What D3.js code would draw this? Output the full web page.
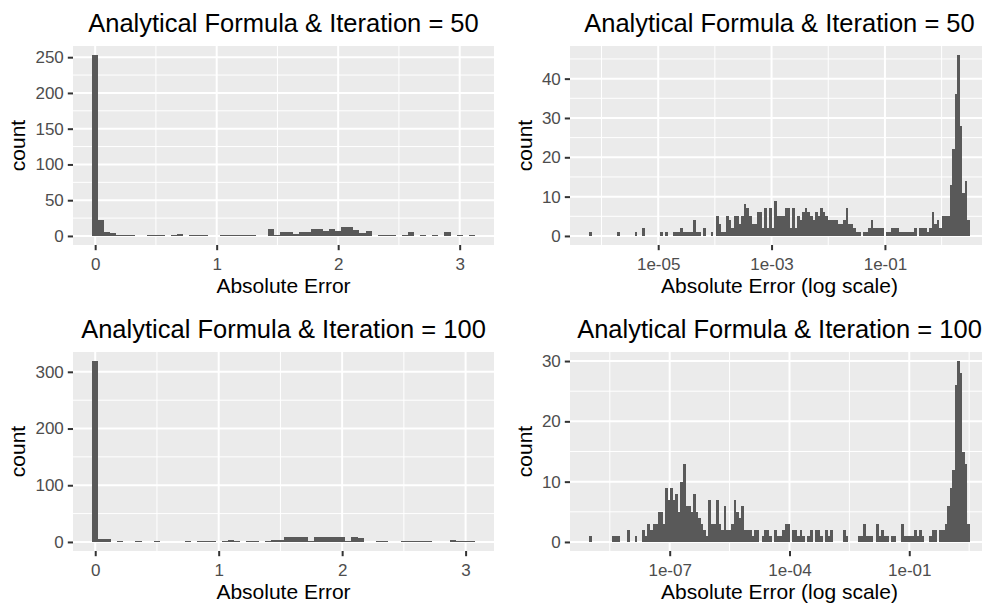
<!DOCTYPE html>
<html><head><meta charset="utf-8">
<script src="https://cdn.jsdelivr.net/npm/d3@7"></script>
<style>
body{margin:0;background:#fff;}
text{font-family:"Liberation Sans",Arial,Helvetica,sans-serif;}
</style></head><body>
<svg id="c" width="982" height="604"></svg>
<script>
// ---------------- DATA ----------------
const titles = ["Analytical Formula & Iteration = 50","Analytical Formula & Iteration = 50",
                "Analytical Formula & Iteration = 100","Analytical Formula & Iteration = 100"];
const xTitles = ["Absolute Error","Absolute Error (log scale)","Absolute Error","Absolute Error (log scale)"];
const yTitle = "count";

// linear histograms: bins of width 0.05 centred on 0, 0.05, 0.10, ...
const linBinWidth = 0.05;
const lin50Counts = [253,22,6,4,1,1,1,0,0,1, 1,1,0,1,3,0,1,1,1,0, 0,1,1,1,1,1,1,0,0,10,
                     1,5,5,3,5,5,10,10,7,10, 7,12,12,8,4,7,0,1,1,1, 0,1,5,0,1,0,1,0,5,0, 1,0,1];
const lin100Counts = [319,5,5,0,1,0,0,1,0,0, 1,0,0,0,0,1,0,1,1,1, 0,1,3,1,0,1,1,0,1,3,
                      3,8,8,8,8,1,8,8,8,8, 8,1,8,7,0,0,1,1,0,0, 1,1,1,1,1,0,0,0,3,1, 1,1];

// log histograms: 150 equal bins in log10 space
const log50Range = [-6.22, 0.50];   // log10 of outer bin edges
const log50Counts = [
 1,0,0,0,0,0,0,0,0,0,  0,1,0,0,0,0,0,0,1,0,  0,2,0,0,0,0,0,0,1,0,
 1,0,0,1,1,1,2,1,1,1,  1,4,1,1,0,2,0,0,1,0,  5,3,1,1,5,4,2,5,5,3,
 5,8,7,5,3,3,6,6,2,7,  2,7,2,9,5,5,5,7,7,2,  7,2,5,4,6,7,6,5,4,6,
 5,7,6,5,4,4,4,4,3,3,  4,7,3,3,2,1,1,0,1,1,  2,4,2,2,2,2,0,1,1,2,
 2,2,1,1,1,1,1,1,2,0,  2,2,2,1,2,6,3,4,2,5,  5,5,13,22,36,46,28,11,14,4];
const log100Range = [-9.02, 0.52];
const log100Counts = [
 1,0,0,0,0,0,0,0,0,1,  1,1,0,0,0,2,0,0,1,0,  0,2,1,3,2,3,3,5,5,3,
 9,7,9,7,8,5,10,13,6,6,  5,8,5,4,3,2,1,7,3,3,  7,3,2,6,2,2,3,7,5,4,
 6,2,2,2,1,2,2,0,1,2,  2,1,0,2,1,1,2,3,3,0,  2,2,1,2,1,0,1,2,0,2,
 2,1,0,2,1,2,0,0,0,0,  2,1,0,0,0,0,1,1,3,1,  1,1,0,3,1,2,1,1,0,1,
 1,0,0,3,1,1,1,1,2,1,  2,1,0,0,1,2,2,0,2,2,  3,6,9,12,26,30,28,15,13,3];

const linXTicks = [0,1,2,3];
const log50XTicks = [1e-5,1e-3,1e-1];
const log50XLabels = ["1e-05","1e-03","1e-01"];
const log100XTicks = [1e-7,1e-4,1e-1];
const log100XLabels = ["1e-07","1e-04","1e-01"];
const yTicks = [[0,50,100,150,200,250],[0,10,20,30,40],[0,100,200,300],[0,10,20,30]];

// ---------------- LAYOUT ----------------
const svg = d3.select("#c");
svg.append("rect").attr("width",982).attr("height",604).attr("fill","#fff");

const boxes = [
  {l:73, r:494, t:46,  b:245, cx:25},
  {l:570,r:989, t:46,  b:245, cx:531.5},
  {l:73, r:494, t:352, b:551, cx:25},
  {l:570,r:989, t:352, b:551, cx:531.5}
];

function linBins(counts){
  return counts.map((n,i)=>({x0:(i-0.5)*linBinWidth, x1:(i+0.5)*linBinWidth, n}));
}
function logBins(counts, range){
  const w = (range[1]-range[0])/counts.length;
  return counts.map((n,i)=>({x0:Math.pow(10,range[0]+i*w), x1:Math.pow(10,range[0]+(i+1)*w), n}));
}
function minorsOf(majors, lo, hi, isLog){
  const t = isLog ? (v=>Math.log10(v)) : (v=>v);
  const inv = isLog ? (v=>Math.pow(10,v)) : (v=>v);
  const m = majors.map(t);
  const step = m[1]-m[0];
  const out = [m[0]-step/2];
  for(let i=0;i<m.length-1;i++) out.push((m[i]+m[i+1])/2);
  out.push(m[m.length-1]+step/2);
  return out.map(inv).filter(v=>v>lo && v<hi);
}

const panels = [
  {bins: linBins(lin50Counts), log:false, xt:linXTicks, xl:linXTicks.map(String)},
  {bins: logBins(log50Counts, log50Range), log:true, xt:log50XTicks, xl:log50XLabels},
  {bins: linBins(lin100Counts), log:false, xt:linXTicks, xl:linXTicks.map(String)},
  {bins: logBins(log100Counts, log100Range), log:true, xt:log100XTicks, xl:log100XLabels}
];

panels.forEach((p,i)=>{
  const bx = boxes[i];
  const g = svg.append("g");
  let x;
  const lo = p.bins[0].x0, hi = p.bins[p.bins.length-1].x1;
  if(p.log){
    const a=Math.log10(lo), b=Math.log10(hi), pad=0.05*(b-a);
    x = d3.scaleLog().domain([Math.pow(10,a-pad), Math.pow(10,b+pad)]).range([bx.l,bx.r]);
  } else {
    const pad=0.05*(hi-lo);
    x = d3.scaleLinear().domain([lo-pad, hi+pad]).range([bx.l,bx.r]);
  }
  const ymax = d3.max(p.bins,d=>d.n);
  const y = d3.scaleLinear().domain([-0.05*ymax, 1.05*ymax]).range([bx.b,bx.t]);
  const xd = x.domain(), yd = y.domain();

  // panel background
  g.append("rect").attr("x",bx.l).attr("y",bx.t).attr("width",bx.r-bx.l).attr("height",bx.b-bx.t).attr("fill","#EBEBEB");
  // minor grid
  const xMin = minorsOf(p.xt, xd[0], xd[1], p.log);
  const yMin = minorsOf(yTicks[i], yd[0], yd[1], false);
  g.selectAll(".xmin").data(xMin).join("line").attr("x1",d=>x(d)).attr("x2",d=>x(d)).attr("y1",bx.t).attr("y2",bx.b)
    .attr("stroke","#fff").attr("stroke-width",1);
  g.selectAll(".ymin").data(yMin).join("line").attr("y1",d=>y(d)).attr("y2",d=>y(d)).attr("x1",bx.l).attr("x2",bx.r)
    .attr("stroke","#fff").attr("stroke-width",1);
  // major grid
  g.selectAll(".xmaj").data(p.xt).join("line").attr("x1",d=>x(d)).attr("x2",d=>x(d)).attr("y1",bx.t).attr("y2",bx.b)
    .attr("stroke","#fff").attr("stroke-width",2);
  g.selectAll(".ymaj").data(yTicks[i]).join("line").attr("y1",d=>y(d)).attr("y2",d=>y(d)).attr("x1",bx.l).attr("x2",bx.r)
    .attr("stroke","#fff").attr("stroke-width",2);
  // bars
  g.selectAll(".bar").data(p.bins).join("rect")
    .attr("x",d=>x(d.x0)).attr("width",d=>Math.max(0,x(d.x1)-x(d.x0)))
    .attr("y",d=>y(d.n)).attr("height",d=>y(0)-y(d.n))
    .attr("fill","#595959").attr("shape-rendering","crispEdges");

  // axes
  const xa = d3.axisBottom(x).tickValues(p.xt).tickFormat((d,j)=>p.xl[j]).tickSize(5.2).tickPadding(4);
  const xg = g.append("g").attr("transform",`translate(0,${bx.b})`).call(xa);
  const ya = d3.axisLeft(y).tickValues(yTicks[i]).tickSize(5.2).tickPadding(4);
  const yg = g.append("g").attr("transform",`translate(${bx.l},0)`).call(ya);
  [xg,yg].forEach(a=>{
    a.select(".domain").remove();
    a.selectAll(".tick line").attr("stroke","#333333").attr("stroke-width",2);
    a.selectAll(".tick text").attr("fill","#4D4D4D").style("font-size","17px")
      .style("font-family",'"Liberation Sans",Arial,Helvetica,sans-serif');
  });
  xg.selectAll(".tick text").attr("dy","0.95em");

  // titles
  const cxm = (bx.l+bx.r)/2;
  g.append("text").attr("x",cxm).attr("y",bx.t-14.5).attr("text-anchor","middle")
    .style("font-size","25.5px").attr("fill","#000").text(titles[i]);
  g.append("text").attr("x",cxm).attr("y",bx.b+48).attr("text-anchor","middle")
    .style("font-size","21px").attr("fill","#000").text(xTitles[i]);
  g.append("text").attr("transform",`translate(${bx.cx},${(bx.t+bx.b)/2}) rotate(-90)`).attr("text-anchor","middle")
    .style("font-size","21px").attr("fill","#000").text(yTitle);
});
</script>
</body></html>
